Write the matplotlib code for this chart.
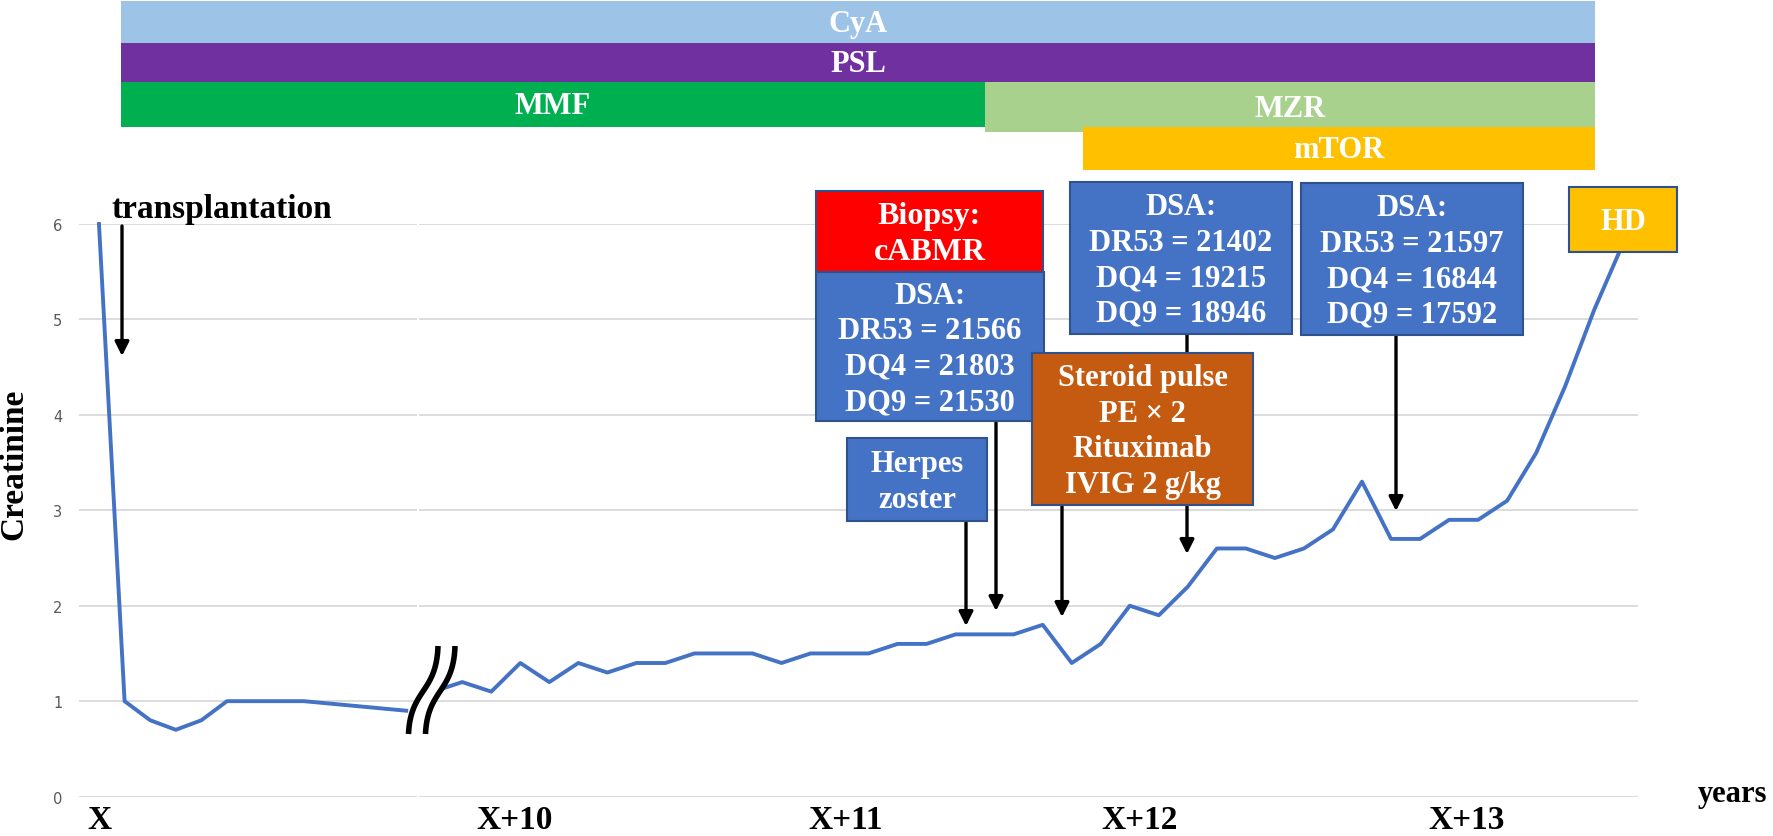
import numpy as np
import matplotlib
matplotlib.use("Agg")
import matplotlib.pyplot as plt
from matplotlib.patches import Rectangle, Polygon

W, H = 1774, 837
SERIF = ["Liberation Serif", "DejaVu Serif"]

# creatinine before the axis break (visit index, value)
early_idx = [0, 1, 2, 3, 4, 5, 6, 7, 8, 12]
early_cr = [6.0, 1.0, 0.8, 0.7, 0.8, 1.0, 1.0, 1.0, 1.0, 0.9]

# creatinine after the break, one value per visit
late_cr = [1.1, 1.2, 1.1, 1.4, 1.2, 1.4, 1.3, 1.4, 1.4,
           1.5, 1.5, 1.5, 1.4, 1.5, 1.5, 1.5, 1.6, 1.6,
           1.7, 1.7, 1.7, 1.8, 1.4, 1.6, 2.0, 1.9, 2.2,
           2.6, 2.6, 2.5, 2.6, 2.8, 3.3, 2.7, 2.7, 2.9,
           2.9, 3.1, 3.6, 4.3, 5.1, 5.8]
late_idx = list(range(len(late_cr)))

year_labels = ["X+10", "X+11", "X+12", "X+13"]
year_pos = [2.8, 14.2, 24.35, 35.6]
y_ticks = [0, 1, 2, 3, 4, 5, 6]

# drug bars across the top (figure pixels: x0, x1, y0, y1)
drugs = [
    ("CyA", 121, 1595, 2, 44, "#9DC3E6"),
    ("PSL", 121, 1595, 44, 83, "#7030A0"),
    ("MMF", 121, 985, 83, 128, "#00B050"),
    ("MZR", 985, 1595, 83, 133, "#A9D18E"),
    ("mTOR", 1083, 1595, 128, 171, "#FFC000"),
]

# event boxes (figure pixels: x0, y0, x1, y1)
events = [
    ("Biopsy:\ncABMR", 816, 192, 1043, 273, "#FF0000", 23),
    ("DSA:\nDR53 = 21566\nDQ4 = 21803\nDQ9 = 21530", 816, 273, 1044, 422, "#4472C4", 22),
    ("DSA:\nDR53 = 21402\nDQ4 = 19215\nDQ9 = 18946", 1070, 183, 1292, 335, "#4472C4", 22),
    ("DSA:\nDR53 = 21597\nDQ4 = 16844\nDQ9 = 17592", 1301, 184, 1523, 336, "#4472C4", 22),
    ("Steroid pulse\nPE × 2\nRituximab\nIVIG 2 g/kg", 1032, 354, 1253, 506, "#C55A11", 22),
    ("Herpes\nzoster", 847, 439, 987, 522, "#4472C4", 22),
    ("HD", 1569, 188, 1677, 253, "#FFC000", 22),
]

# arrows (x, y start, y tip) in figure pixels
arrows = [(122, 227, 357), (966, 522, 627), (996, 422, 612),
          (1062, 506, 618), (1187, 335, 555), (1396, 336, 512)]

fig = plt.figure(figsize=(W / 100, H / 100), dpi=100)

y0_px, y6_px = 797.6, 225
bottom = (H - y0_px) / H
height = (y0_px - y6_px) / H
ax1 = fig.add_axes([79 / W, bottom, (417 - 79) / W, height])
ax2 = fig.add_axes([419 / W, bottom, (1638 - 419) / W, height])

for ax, xs, ys in [(ax1, early_idx, early_cr), (ax2, late_idx, late_cr)]:
    ax.plot(xs, ys, color="#4472C4", lw=2.8, solid_joinstyle="round", clip_on=False, zorder=3)
    ax.set_ylim(0, 6)
    ax.set_yticks(y_ticks)
    ax.grid(axis="y", color="#D9D9D9", lw=1.3)
    ax.set_axisbelow(True)
    for s in ax.spines.values():
        s.set_visible(False)
    ax.tick_params(length=0)

ax1.set_xlim(-0.78, 12.42)
ax2.set_xlim(-0.49, 41.51)
ax1.set_xticks([0])
ax1.set_xticklabels(["X"], fontsize=24, fontweight="bold", family=SERIF)
ax1.tick_params(axis="x", pad=5)
ax1.tick_params(axis="y", labelsize=10.5, labelcolor="#595959", pad=12)
ax2.set_xticks(year_pos)
ax2.set_xticklabels(year_labels, fontsize=24, fontweight="bold", family=SERIF)
ax2.tick_params(axis="x", pad=5)
ax2.set_yticklabels([])

fig.text(14 / W, 1 - 464 / H, "Creatinine", rotation=90, ha="center", va="center",
         fontsize=24, fontweight="bold", family=SERIF)
fig.text(1733 / W, 1 - 795 / H, "years", ha="center", va="center",
         fontsize=22, fontweight="bold", family=SERIF)

# overlay in pixel coordinates for bars, boxes, arrows and the break mark
ov = fig.add_axes([0, 0, 1, 1], facecolor="none")
ov.set_xlim(0, W)
ov.set_ylim(H, 0)
ov.axis("off")

for name, x0, x1, y0, y1, col in drugs:
    ov.add_patch(Rectangle((x0, y0), x1 - x0, y1 - y0, facecolor=col, edgecolor="none", zorder=2))
    ov.text((x0 + x1) / 2, (y0 + y1) / 2 + 1, name, ha="center", va="center", color="white",
            fontsize=22, fontweight="bold", family=SERIF, zorder=3)

for x, ys, yt in arrows:
    ov.annotate("", xy=(x, yt), xytext=(x, ys),
                arrowprops=dict(arrowstyle="-|>", lw=2.4, color="black",
                                mutation_scale=21, shrinkA=0, shrinkB=0), zorder=3)

for txt, x0, y0, x1, y1, col, fs in events:
    ov.add_patch(Rectangle((x0, y0), x1 - x0, y1 - y0, facecolor=col, edgecolor="#2F528F",
                           lw=1.5, zorder=4))
    ov.text((x0 + x1) / 2, (y0 + y1) / 2 + 2, txt, ha="center", va="center", color="white",
            fontsize=fs, fontweight="bold", family=SERIF, linespacing=1.3, zorder=5)

ov.text(112, 209, "transplantation", ha="left", va="center", fontsize=24,
        fontweight="bold", family=SERIF, zorder=5)


# axis break mark: two S-shaped strokes with white between them
def s_curve(x0):
    t = np.linspace(0, 1, 50)[:, None]
    p = np.array([[x0, 735], [x0 + 2, 690], [x0 + 28, 694], [x0 + 29.5, 647]])
    return ((1 - t) ** 3 * p[0] + 3 * (1 - t) ** 2 * t * p[1]
            + 3 * (1 - t) * t ** 2 * p[2] + t ** 3 * p[3])


c1 = s_curve(408.5)
c2 = s_curve(425.5)
ov.add_patch(Polygon(np.vstack([c1, c2[::-1]]), closed=True, facecolor="white",
                     edgecolor="none", zorder=6))
for c in (c1, c2):
    ov.plot(c[:, 0], c[:, 1], color="black", lw=4.0, solid_capstyle="butt", zorder=7)

fig.savefig("out.png", dpi=100)
